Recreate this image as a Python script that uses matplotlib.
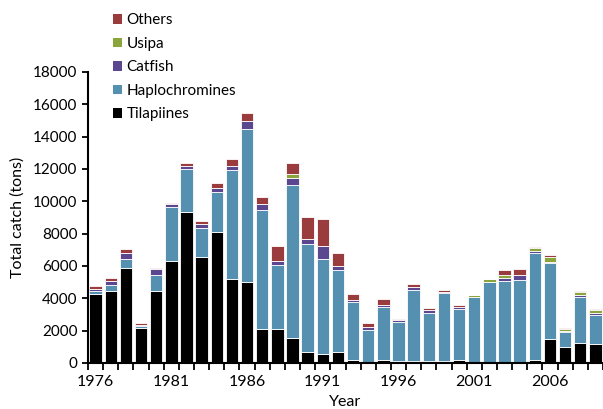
import numpy as np
import matplotlib
matplotlib.use("Agg")
import matplotlib.pyplot as plt
from matplotlib.patches import Patch

plt.rcParams['font.family'] = ['Lato', 'DejaVu Sans']

# catch by group (tons)
years = list(range(1976, 2010))
tilapiines = [4270, 4440, 5880, 2190, 4480, 6310, 9330, 6580, 8080, 5210,
              5000, 2125, 2080, 1520, 710, 560, 650, 170, 60, 170,
              120, 120, 150, 100, 170, 40, 20, 20, 20, 190,
              1500, 1000, 1230, 1150]
haplochromines = [170, 370, 560, 100, 980, 3360, 2690, 1795, 2500, 6730,
                  9460, 7335, 3980, 9520, 6620, 5900, 5120, 3580, 1980, 3270,
                  2400, 4420, 2950, 4210, 3180, 4040, 4980, 5040, 5105, 6620,
                  4670, 900, 2850, 1810]
catfish = [160, 290, 370, 60, 330, 140, 170, 225, 270, 270,
           500, 370, 270, 420, 340, 770, 250, 150, 190, 120,
           150, 170, 190, 110, 110, 20, 30, 210, 315, 110,
           100, 100, 110, 120]
usipa = [0, 0, 0, 0, 0, 0, 0, 0, 0, 0,
         0, 0, 0, 210, 0, 0, 0, 0, 0, 0,
         0, 0, 0, 0, 0, 80, 140, 190, 0, 180,
         290, 125, 210, 170]
others = [190, 150, 230, 110, 110, 110, 185, 190, 300, 415,
          480, 460, 920, 705, 1370, 1690, 810, 350, 270, 420,
          80, 165, 110, 80, 100, 50, 40, 290, 370, 90,
          110, 45, 40, 60]

series = [
    ('Tilapiines', tilapiines, '#000000'),
    ('Haplochromines', haplochromines, '#5590b0'),
    ('Catfish', catfish, '#5b4790'),
    ('Usipa', usipa, '#8aa53c'),
    ('Others', others, '#9a3c3e'),
]

fig = plt.figure(figsize=(6.03, 4.09), dpi=100)
ax = fig.add_axes([0.146, 0.1125, 0.854, 0.7115])

x = np.arange(len(years))
bottom = np.zeros(len(years))
for name, vals, color in series:
    vals = np.array(vals, dtype=float)
    ax.bar(x, vals, bottom=bottom, width=0.82, color=color,
           edgecolor='white', linewidth=0.6)
    bottom += vals

ax.set_xlim(-0.5, len(years) - 0.5)
ax.set_ylim(0, 18000)
ax.set_yticks(np.arange(0, 18001, 2000))

ax.set_xticks(x[::5])
ax.set_xticklabels([str(y) for y in years[::5]])
ax.set_xticks(np.arange(-0.5, len(years), 1), minor=True)
ax.tick_params(axis='x', which='major', length=0, labelsize=11.5, pad=9)
ax.tick_params(axis='x', which='minor', length=5, width=1.3, direction='out')
ax.tick_params(axis='y', length=4, width=1.3, labelsize=11, direction='out')

for side in ['top', 'right']:
    ax.spines[side].set_visible(False)
for side in ['left', 'bottom']:
    ax.spines[side].set_linewidth(1.5)

ax.set_xlabel('Year', fontsize=11.5, labelpad=4)
ax.set_ylabel('Total catch (tons)', fontsize=11.5, labelpad=6)

handles = [Patch(facecolor=c, edgecolor='none', label=n) for n, v, c in reversed(series)]
fig.legend(handles=handles, loc='upper left', bbox_to_anchor=(0.177, 0.982),
           frameon=False, fontsize=11, handlelength=0.6, handleheight=0.6,
           handletextpad=0.3, labelspacing=0.62, borderaxespad=0)

fig.savefig('out.png', dpi=100)
